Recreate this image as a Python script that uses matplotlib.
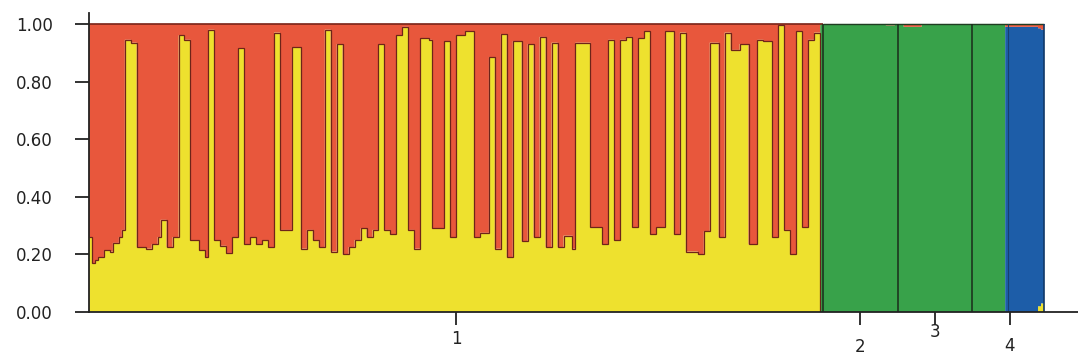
"""
STRUCTURE-style admixture bar plot, four populations.
"""
import matplotlib
matplotlib.use("Agg")
import matplotlib.pyplot as plt
import numpy as np

# colours of the clusters
c_yellow = "#EEE12E"
c_red = "#E8573C"
c_green = "#38A24A"
c_blue = "#1D5DA8"

# population labels and sizes (individuals)
pop_labels = ["1", "2", "3", "4"]
pop_sizes = [246, 25, 25, 25]

# population 1: yellow share per individual (rest is red)
pop1_yellow = [
    0.26, 0.17, 0.18, 0.19, 0.19, 0.215, 0.215, 0.21, 0.24, 0.24, 0.26, 0.285,
    0.945, 0.945, 0.935, 0.935, 0.225, 0.225, 0.225, 0.22, 0.22, 0.235, 0.235, 0.26,
    0.32, 0.32, 0.225, 0.225, 0.26, 0.26, 0.96, 0.96, 0.945, 0.945, 0.25, 0.25,
    0.25, 0.215, 0.215, 0.19, 0.98, 0.98, 0.25, 0.25, 0.23, 0.23, 0.205, 0.205,
    0.26, 0.26, 0.915, 0.915, 0.235, 0.235, 0.26, 0.26, 0.235, 0.235, 0.25, 0.25,
    0.225, 0.225, 0.97, 0.97, 0.285, 0.285, 0.285, 0.285, 0.92, 0.92, 0.92, 0.22,
    0.22, 0.285, 0.285, 0.25, 0.25, 0.225, 0.225, 0.98, 0.98, 0.21, 0.21, 0.93,
    0.93, 0.2, 0.2, 0.225, 0.225, 0.25, 0.25, 0.29, 0.29, 0.26, 0.26, 0.285,
    0.285, 0.93, 0.93, 0.285, 0.285, 0.27, 0.27, 0.96, 0.96, 0.99, 0.99, 0.285,
    0.285, 0.22, 0.22, 0.95, 0.95, 0.95, 0.945, 0.29, 0.29, 0.29, 0.29, 0.94,
    0.94, 0.26, 0.26, 0.96, 0.96, 0.96, 0.975, 0.975, 0.975, 0.26, 0.26, 0.275,
    0.275, 0.275, 0.885, 0.885, 0.22, 0.22, 0.965, 0.965, 0.19, 0.19, 0.94, 0.94,
    0.94, 0.245, 0.245, 0.93, 0.93, 0.26, 0.26, 0.955, 0.955, 0.225, 0.225, 0.935,
    0.935, 0.225, 0.225, 0.265, 0.265, 0.265, 0.22, 0.935, 0.935, 0.935, 0.935, 0.935,
    0.295, 0.295, 0.295, 0.295, 0.235, 0.235, 0.945, 0.945, 0.25, 0.25, 0.945, 0.945,
    0.955, 0.955, 0.295, 0.295, 0.95, 0.95, 0.975, 0.975, 0.27, 0.27, 0.295, 0.295,
    0.295, 0.975, 0.975, 0.975, 0.27, 0.27, 0.97, 0.97, 0.21, 0.21, 0.21, 0.21,
    0.2, 0.2, 0.28, 0.28, 0.935, 0.935, 0.935, 0.26, 0.26, 0.97, 0.97, 0.91,
    0.91, 0.91, 0.93, 0.93, 0.93, 0.235, 0.235, 0.235, 0.945, 0.945, 0.94, 0.94,
    0.94, 0.26, 0.26, 0.995, 0.995, 0.285, 0.285, 0.2, 0.2, 0.975, 0.975, 0.295,
    0.295, 0.945, 0.945, 0.97, 0.97,
]

# populations 2-4: shares per individual
rest_yellow = [
    0, 0, 0, 0, 0, 0, 0, 0, 0, 0, 0, 0, 0, 0, 0, 0, 0, 0, 0, 0, 0, 0, 0, 0, 0,
    0, 0, 0, 0, 0, 0, 0, 0, 0, 0, 0, 0, 0, 0, 0, 0, 0, 0, 0, 0, 0, 0, 0, 0, 0,
    0, 0, 0, 0, 0, 0, 0, 0, 0, 0, 0, 0, 0, 0, 0, 0, 0, 0, 0, 0, 0, 0, 0, 0.02, 0.03,
]
rest_green = [
    1.0, 1.0, 1.0, 1.0, 1.0, 1.0, 1.0, 1.0, 1.0, 1.0, 1.0, 1.0, 1.0, 1.0, 1.0, 1.0,
    1.0, 1.0, 1.0, 1.0, 1.0, 1.0, 0.995, 0.995, 0.995,
    1.0, 1.0, 1.0, 0.99, 0.99, 0.99, 0.99, 0.99, 0.99, 1.0, 1.0, 1.0, 1.0, 1.0, 1.0,
    1.0, 1.0, 1.0, 1.0, 1.0, 1.0, 1.0, 1.0, 1.0, 1.0,
    1.0, 1.0, 1.0, 1.0, 1.0, 1.0, 1.0, 1.0, 1.0, 1.0, 1.0, 1.0,
    0, 0, 0, 0, 0, 0, 0, 0, 0, 0, 0, 0, 0,
]
rest_blue = [
    0, 0, 0, 0, 0, 0, 0, 0, 0, 0, 0, 0, 0, 0, 0, 0, 0, 0, 0, 0, 0, 0, 0, 0, 0,
    0, 0, 0, 0, 0, 0, 0, 0, 0, 0, 0, 0, 0, 0, 0, 0, 0, 0, 0, 0, 0, 0, 0, 0, 0,
    0, 0, 0, 0, 0, 0, 0, 0, 0, 0, 0, 0,
    0.99, 0.99, 0.99, 0.99, 0.99, 0.99, 0.99, 0.99, 0.99, 0.99, 0.99, 0.965, 0.95,
]

# build the stacked table for all individuals
yellow = np.array(pop1_yellow + rest_yellow)
green = np.concatenate([np.zeros(len(pop1_yellow)), rest_green])
blue = np.concatenate([np.zeros(len(pop1_yellow)), rest_blue])
red = 1.0 - yellow - green - blue
red[red < 0] = 0
n_ind = len(yellow)
edges = np.arange(n_ind + 1)

fig = plt.figure(figsize=(10.78, 3.63), dpi=100)
ax = fig.add_axes([89 / 1078, 1 - 312 / 363, 1 - 89 / 1078, (312 - 13) / 363])

bottom = np.zeros(n_ind)
for share, col in [(yellow, c_yellow), (green, c_green), (blue, c_blue), (red, c_red)]:
    ax.stairs(bottom + share, edges, baseline=bottom, fill=True, color=col, lw=0)
    bottom = bottom + share

# dark outline of the yellow/red steps in pop 1
n1 = pop_sizes[0]
ax.stairs(yellow[:n1], edges[:n1 + 1], baseline=None, color="#6e2418", lw=0.9)
ax.hlines(1.0, 0, n1, color="#7a2418", lw=1.2)
ax.hlines(1.0, n1, n_ind, color="#1f3d22", lw=1.0)

# population separators
bounds = np.cumsum(pop_sizes)
ax.vlines(bounds[:-1], 0, 1, color="#1a2a1a", lw=1.1)
ax.vlines(n1 + 50 + 12, 0, 1, color="#173f70", lw=0.8)
ax.vlines(n_ind, 0, 1, color="#103868", lw=1.2)

# axes formatting
ax.set_ylim(0, 1.038)
ax.set_xlim(0, 331.4)
ax.set_yticks(np.linspace(0, 1, 6))
ax.set_yticklabels([f"{v:.2f}" for v in np.linspace(0, 1, 6)], fontsize=12, color="#222222")
ax.tick_params(axis="y", length=10, width=1.3, pad=16, color="#222222")

centres = bounds - np.array(pop_sizes) / 2
ax.set_xticks(centres)
ax.set_xticklabels([])
ax.tick_params(axis="x", length=9, width=1.3, color="#222222")
label_y = [-0.09, -0.118, -0.066, -0.115]
for cx, lab, ly in zip(centres, pop_labels, label_y):
    ax.text(cx, ly, lab, transform=ax.get_xaxis_transform(), ha="center", va="center",
            fontsize=12, color="#222222")

for side in ["top", "right"]:
    ax.spines[side].set_visible(False)
ax.spines["left"].set_linewidth(1.3)
ax.spines["bottom"].set_linewidth(1.3)
ax.spines["left"].set_color("#222222")
ax.spines["bottom"].set_color("#222222")

fig.savefig("out.png", dpi=100)
